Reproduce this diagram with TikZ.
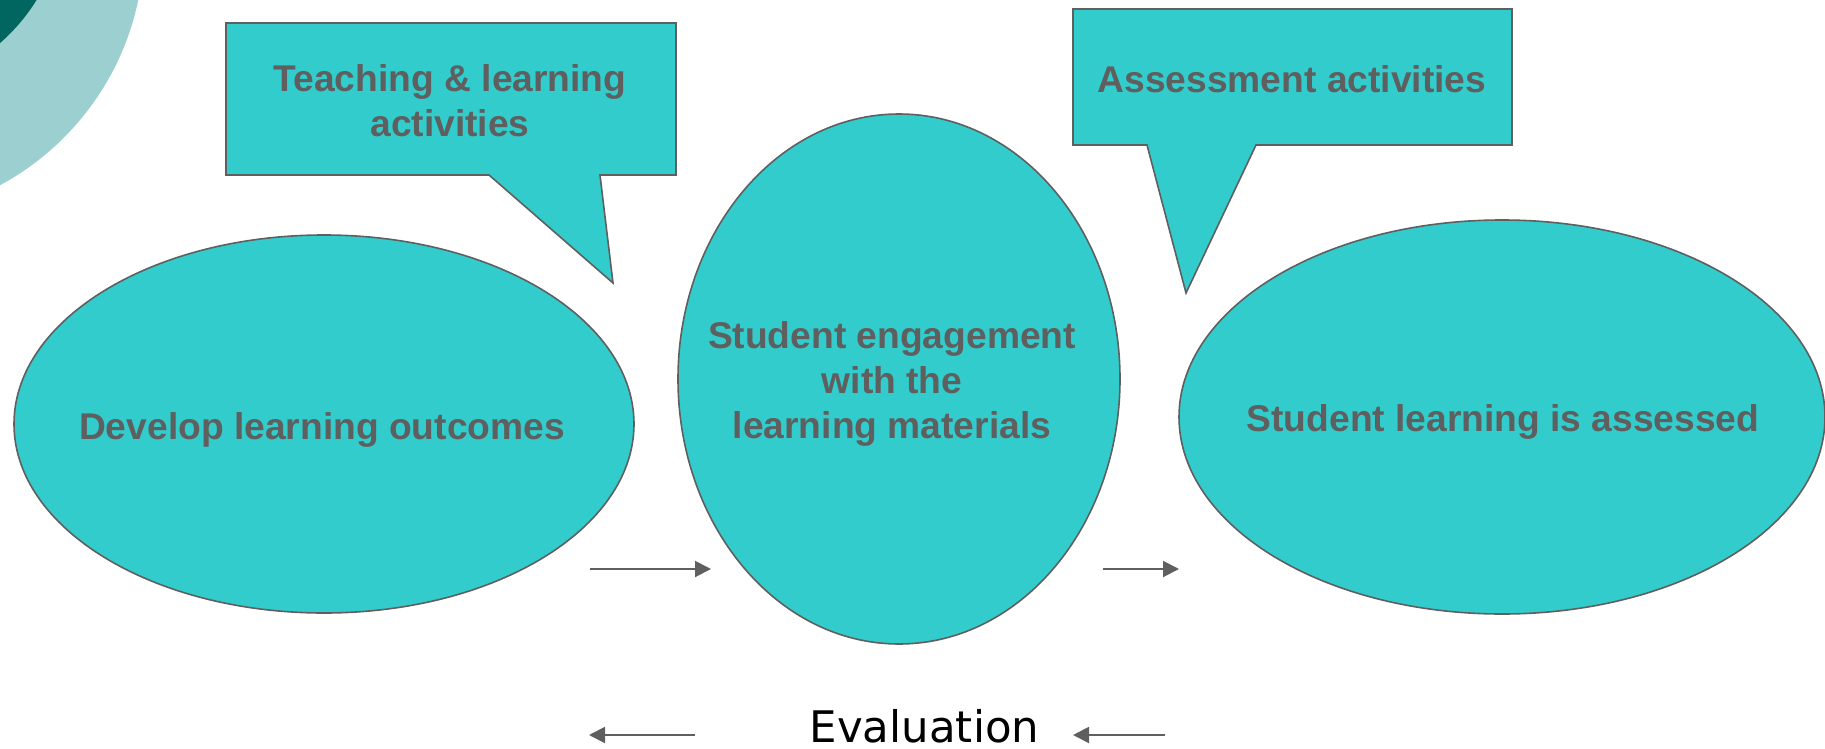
\documentclass[tikz,border=0pt]{standalone}
\usepackage{fontspec}
\setmainfont{Liberation Sans}
\newfontfamily\evalfont{DejaVu Sans}
\usetikzlibrary{shapes.geometric,arrows.meta}

\definecolor{blobfill}{HTML}{33CCCC}
\definecolor{inkgray}{HTML}{5F5F5F}
\definecolor{ringlight}{HTML}{9CCFCF}
\definecolor{ringdark}{HTML}{00665F}

\tikzset{
  blob/.style={ellipse, draw=inkgray, fill=blobfill, line width=1.6pt, inner sep=0pt},
  bubble/.style={draw=inkgray, fill=blobfill, line width=1.6pt},
  blobtext/.style={font=\fontsize{37.2}{45}\selectfont\bfseries, text=inkgray, align=center},
  flow/.style={draw=inkgray, line width=2pt, -{Triangle[length=16pt,width=16pt]}},
}

\begin{document}
\begin{tikzpicture}[x=1pt, y=-1pt]
\useasboundingbox (0,0) rectangle (1825,749);

% corner rings
\begin{scope}
\clip (0,0) rectangle (1825,749);
\fill[ringlight] (-130,-56) circle (274pt);
\fill[ringdark] (-125,-100) circle (190pt);
\end{scope}

% speech bubbles
\draw[bubble] (226,23) -- (676,23) -- (676,175) -- (600,175) -- (613,283)
  -- (489,175) -- (226,175) -- cycle;
\node[blobtext] (teach) at (450,101) {Teaching \& learning\\activities};

\draw[bubble] (1073,9) -- (1512,9) -- (1512,145) -- (1256,145) -- (1186,293)
  -- (1147,145) -- (1073,145) -- cycle;
\node[blobtext] (assess) at (1292,79) {Assessment activities};

% the three stages
\node[blob, minimum width=620pt, minimum height=378pt] (develop) at (324,424) {};
\node[blobtext] (developtxt) at (322,430) {Develop learning outcomes};

\node[blob, minimum width=442pt, minimum height=530pt] (engage) at (899,379) {};
\node[blobtext] (engagetxt) at (892,384) {Student engagement\\with the\\learning materials};

\node[blob, minimum width=646pt, minimum height=394pt] (assessed) at (1502,417) {};
\node[blobtext] (assessedtxt) at (1503,422) {Student learning is assessed};

% forward arrows
\coordinate (f1s) at (590,569);
\coordinate (f1e) at (711,569);
\coordinate (f2s) at (1103,569);
\coordinate (f2e) at (1179,569);
\draw[flow] (f1s) -- (f1e);
\draw[flow] (f2s) -- (f2e);

% evaluation and back arrows
\node[anchor=base, font=\evalfont\fontsize{43.5}{50}\selectfont] (eval) at (924.5,742) {Evaluation};
\coordinate (b1s) at (695,735);
\coordinate (b1e) at (589,735);
\coordinate (b2s) at (1165,735);
\coordinate (b2e) at (1073,735);
\draw[flow] (b1s) -- (b1e);
\draw[flow] (b2s) -- (b2e);

\end{tikzpicture}
\end{document}
